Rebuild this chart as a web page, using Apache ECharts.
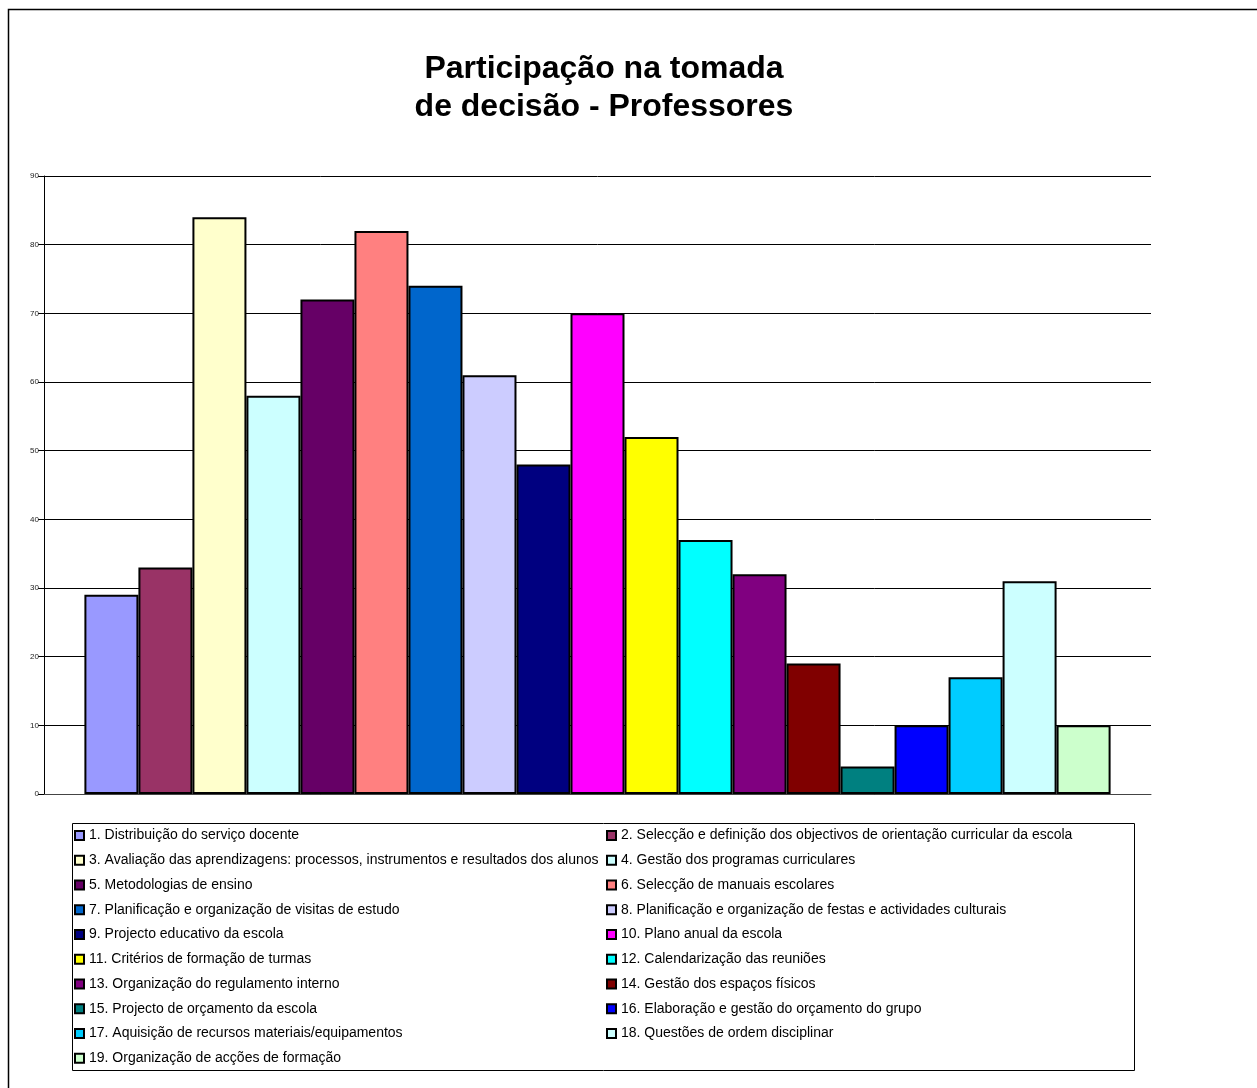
<!DOCTYPE html>
<html>
<head>
<meta charset="utf-8">
<style>
  html, body { margin: 0; padding: 0; background: #fff; }
  #chart { width: 1257px; height: 1088px; }
</style>
<script src="https://cdn.jsdelivr.net/npm/echarts@6/dist/echarts.min.js"></script>
</head>
<body>
<div id="chart"></div>
<script>
// Areas of school decision-making, in legend order
const items = [
  '1. Distribuição do serviço docente',
  '2. Selecção e definição dos objectivos de orientação curricular da escola',
  '3. Avaliação das aprendizagens: processos, instrumentos e resultados dos alunos',
  '4. Gestão dos programas curriculares',
  '5. Metodologias de ensino',
  '6. Selecção de manuais escolares',
  '7. Planificação e organização de visitas de estudo',
  '8. Planificação e organização de festas e actividades culturais',
  '9. Projecto educativo da escola',
  '10. Plano anual da escola',
  '11. Critérios de formação de turmas',
  '12. Calendarização das reuniões',
  '13. Organização do regulamento interno',
  '14. Gestão dos espaços físicos',
  '15. Projecto de orçamento da escola',
  '16. Elaboração e gestão do orçamento do grupo',
  '17. Aquisição de recursos materiais/equipamentos',
  '18. Questões de ordem disciplinar',
  '19. Organização de acções de formação'
];

// Number of teachers reporting participation in each area
const values = [29, 33, 84, 58, 72, 82, 74, 61, 48, 70, 52, 37, 32, 19, 4, 10, 17, 31, 10];

// Y axis ticks
const yTicks = [0, 10, 20, 30, 40, 50, 60, 70, 80, 90];

// Fill colour of each area's bar
const palette = [
  '#9999FF', '#993366', '#FFFFCC', '#CCFFFF', '#660066', '#FF8080', '#0066CC',
  '#CCCCFF', '#000080', '#FF00FF', '#FFFF00', '#00FFFF', '#800080', '#800000',
  '#008080', '#0000FF', '#00CCFF', '#CCFFFF', '#CCFFCC'
];

const chart = echarts.init(document.getElementById('chart'), null, { renderer: 'canvas' });

const series = items.map((name, i) => ({
  name: name,
  type: 'bar',
  data: [values[i]],
  barGap: '0%',
  barCategoryGap: '7.3%',
  itemStyle: { color: palette[i], borderColor: '#000', borderWidth: 2 },
  emphasis: { disabled: true },
  animation: false
}));

const legendText = { fontFamily: 'Liberation Sans, Arial, sans-serif', fontSize: 14, color: '#000', lineHeight: 15 };

const legendCommon = {
  orient: 'vertical',
  top: 828,
  itemGap: 9.75,
  itemWidth: 9,
  itemHeight: 9,
  icon: 'rect',
  selectedMode: false,
  padding: 0,
  textStyle: legendText,
  itemStyle: { borderColor: '#000', borderWidth: 2 }
};

chart.setOption({
  backgroundColor: '#fff',
  animation: false,
  title: {
    text: 'Participação na tomada\nde decisão - Professores',
    left: 599,
    top: 45,
    textAlign: 'center',
    textStyle: {
      fontFamily: 'Liberation Sans, Arial, sans-serif',
      fontWeight: 'bold',
      fontSize: 32,
      lineHeight: 38,
      color: '#000'
    }
  },
  grid: { left: 44, right: 106, top: 176, bottom: 294, containLabel: false },
  xAxis: {
    type: 'category',
    data: [''],
    axisLine: { show: true, lineStyle: { color: '#444', width: 1 } },
    axisTick: { show: false },
    axisLabel: { show: false },
    splitLine: { show: false }
  },
  yAxis: {
    type: 'value',
    min: yTicks[0],
    max: yTicks[yTicks.length - 1],
    interval: 10,
    axisLine: { show: true, lineStyle: { color: '#000', width: 1 } },
    axisTick: { show: true, length: 6, lineStyle: { color: '#000' } },
    axisLabel: {
      fontFamily: 'Liberation Sans, Arial, sans-serif',
      fontSize: 8,
      color: '#222',
      margin: 5
    },
    splitLine: { show: true, lineStyle: { color: '#000', width: 1 } }
  },
  legend: [
    Object.assign({}, legendCommon, { left: 74, data: items.filter((_, i) => i % 2 === 0) }),
    Object.assign({}, legendCommon, { left: 606, data: items.filter((_, i) => i % 2 === 1) })
  ],
  graphic: [
    {
      type: 'rect',
      shape: { x: 8.5, y: 9.5, width: 1300, height: 1100 },
      style: { fill: 'none', stroke: '#000', lineWidth: 1.5 },
      silent: true, z: -1
    },
    {
      type: 'rect',
      shape: { x: 72.5, y: 823.5, width: 1062, height: 247 },
      style: { fill: 'none', stroke: '#000', lineWidth: 1 },
      silent: true, z: -1
    }
  ],
  series: series
});
</script>
</body>
</html>
